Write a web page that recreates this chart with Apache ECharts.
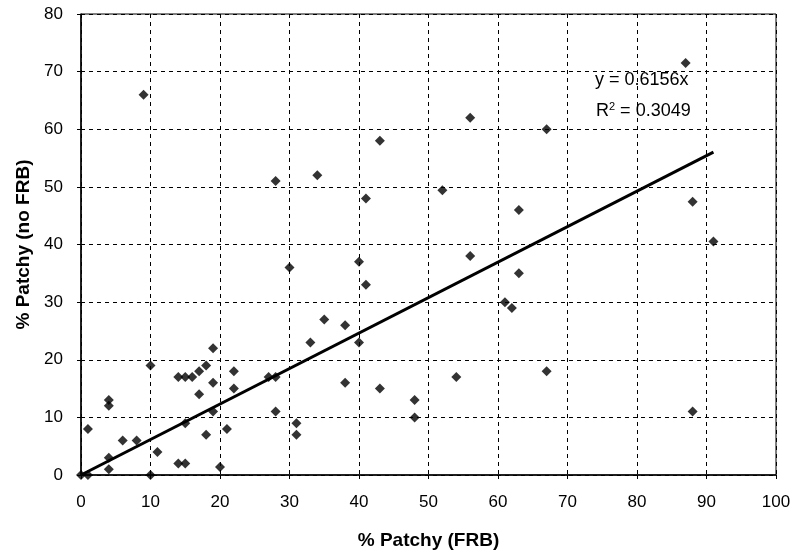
<!DOCTYPE html>
<html>
<head>
    <meta charset="utf-8" />
    <title>% Patchy</title>
    <style>
        html, body { margin: 0; padding: 0; background: #fff; }
        #chart { width: 798px; height: 555px; }
    </style>
</head>
<body>
    <div id="chart"></div>
    <script src="https://cdn.jsdelivr.net/npm/echarts@6/dist/echarts.min.js"></script>
    <script>
        // % Patchy (FRB) -> x, % Patchy (no FRB) -> y
        var xValues = [0, 1, 1, 4, 4, 4, 4, 6, 8, 9, 10, 10, 11, 14, 15, 16, 17, 18, 19, 19, 17, 22, 22, 19, 15, 21, 18, 14, 15, 20,
            28, 34, 41, 52, 30, 40, 41, 56, 35, 38, 33, 40, 27, 28, 28, 38, 43, 48, 48, 54, 31, 31,
            43, 56, 67, 87, 63, 88, 91, 63, 61, 62, 67, 88];
        var yValues = [0, 0, 8, 13, 12, 3, 1, 6, 6, 66, 19, 0, 4, 17, 17, 17, 18, 19, 22, 16, 14, 18, 15, 11, 9, 8, 7, 2, 2, 1.4,
            51, 52, 48, 49.4, 36, 37, 33, 38, 27, 26, 23, 23, 17, 17, 11, 16, 15, 13, 10, 17, 9, 7,
            58, 62, 60, 71.5, 46, 47.4, 40.5, 35, 30, 29, 18, 11];
        var slope = 0.6156;
        var rSquared = 0.3049;
        var xTicks = [0, 10, 20, 30, 40, 50, 60, 70, 80, 90, 100];
        var yTicks = [0, 10, 20, 30, 40, 50, 60, 70, 80];

        var points = [];
        for (var i = 0; i < xValues.length; i++) {
            points.push([xValues[i], yValues[i]]);
        }
        // 趋势线 y = slope * x，从 0 画到最大 x
        var xMax = Math.max.apply(null, xValues);
        var trend = [[0, 0], [xMax, slope * xMax]];

        var font = 'Liberation Sans, Arial, sans-serif';
        var myChart = echarts.init(document.getElementById('chart'));
        var option = {
            backgroundColor: '#fff',
            animation: false,
            grid: { left: 81, right: 22, top: 14, bottom: 77, show: true, borderColor: '#000', borderWidth: 1 },
            xAxis: {
                type: 'value', min: xTicks[0], max: xTicks[xTicks.length - 1], interval: 10,
                name: '% Patchy (FRB)', nameLocation: 'middle', nameGap: 56,
                nameTextStyle: { fontFamily: font, fontWeight: 'bold', fontSize: 19, color: '#000' },
                axisLine: { lineStyle: { color: '#000', width: 1.5 } },
                axisTick: { show: true, length: 4, lineStyle: { color: '#000' } },
                axisLabel: { fontFamily: font, fontSize: 17, color: '#000', margin: 19 },
                splitLine: { show: true, lineStyle: { color: '#000', type: [4, 4], width: 1 } }
            },
            yAxis: {
                type: 'value', min: yTicks[0], max: yTicks[yTicks.length - 1], interval: 10,
                name: '% Patchy (no FRB)', nameLocation: 'middle', nameGap: 48,
                nameTextStyle: { fontFamily: font, fontWeight: 'bold', fontSize: 19, color: '#000' },
                axisLine: { show: true, lineStyle: { color: '#000', width: 1.5 } },
                axisTick: { show: true, length: 4, lineStyle: { color: '#000' } },
                axisLabel: { fontFamily: font, fontSize: 17, color: '#000', margin: 18 },
                splitLine: { show: true, lineStyle: { color: '#000', type: [4, 4], width: 1 } }
            },
            graphic: [{
                type: 'text', x: 595, y: 80,
                style: {
                    text: 'y = ' + slope + 'x',
                    font: '18px ' + font, fill: '#000', verticalAlign: 'middle'
                }
            }, {
                type: 'text', x: 596, y: 111,
                style: {
                    text: 'R{s|2} = ' + rSquared,
                    font: '18px ' + font, fill: '#000', verticalAlign: 'middle',
                    rich: { s: { fontSize: 11, verticalAlign: 'top', padding: [0, 0, 9, 0] } }
                }
            }],
            series: [{
                type: 'line',
                data: trend,
                symbol: 'none',
                lineStyle: { color: '#000', width: 3 },
                z: 3
            }, {
                type: 'scatter',
                data: points,
                symbol: 'diamond',
                symbolSize: 10,
                itemStyle: { color: '#000' },
                z: 4
            }]
        };
        myChart.setOption(option);
    </script>
</body>
</html>
